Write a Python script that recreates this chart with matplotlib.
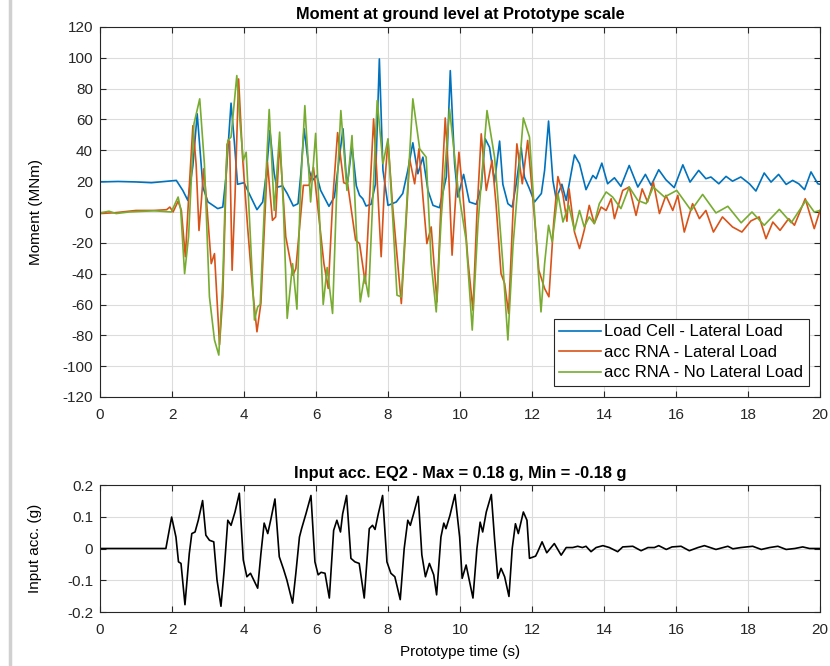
import matplotlib
matplotlib.use('Agg')
import matplotlib.pyplot as plt
from matplotlib.lines import Line2D

plt.rcParams['font.family'] = ['Liberation Sans', 'DejaVu Sans']
plt.rcParams['axes.unicode_minus'] = False

# Load Cell - Lateral Load (time s, moment MNm)
lc_t = [0, 0.5, 1.0, 1.43, 1.8, 2.12, 2.3, 2.44, 2.58, 2.70, 2.86, 3.0, 3.27, 3.41, 3.5, 3.64, 3.73, 3.82,
        4.0, 4.19, 4.36, 4.52, 4.62, 4.72, 4.84, 4.91, 5.07, 5.2, 5.37, 5.5, 5.58, 5.67, 5.81, 5.9, 6.02,
        6.13, 6.36, 6.51, 6.62, 6.75, 6.84, 6.88, 7.0, 7.12, 7.21, 7.3, 7.39, 7.53, 7.65, 7.76, 7.86, 8.0,
        8.23, 8.41, 8.55, 8.69, 8.83, 8.97, 9.11, 9.25, 9.43, 9.62, 9.73, 9.85, 9.94, 10.1, 10.26, 10.45,
        10.59, 10.7, 10.82, 10.96, 11.1, 11.19, 11.33, 11.45, 11.56, 11.7, 11.79, 11.93, 12.07, 12.26,
        12.35, 12.46, 12.58, 12.67, 12.83, 12.95, 13.18, 13.32, 13.5, 13.69, 13.78, 13.94, 14.1, 14.29,
        14.47, 14.7, 14.94, 15.15, 15.31, 15.52, 15.72, 15.95, 16.19, 16.39, 16.63, 16.83, 16.97, 17.19,
        17.39, 17.57, 17.8, 18.04, 18.22, 18.45, 18.64, 18.85, 19.06, 19.24, 19.41, 19.57, 19.75, 19.94, 20]
lc_v = [19.5, 19.8, 19.5, 19.0, 19.8, 20.5, 14, 7.5, 30, 63.7, 16, 6.5, 2.2, 3.2, 22.7, 70.6, 46, 18,
        19, 9.7, 1.5, 6.5, 25, 52.9, 24.8, 16, 17, 12, 3.9, 5.4, 25, 54, 27, 20.5, 23.7,
        14, 3.7, 9.7, 30, 54, 22.7, 19.4, 43, 17, 10.8, 8.6, 3.9, 5, 18, 99.3, 27, 4.3,
        6.5, 12, 27, 44.9, 24.8, 35.6, 14, 4.3, 2.8, 22.7, 91.7, 31.3, 9.7, 24.4, 6.5, 5,
        16, 47.5, 42, 19.4, 46, 18, 5.4, 3.2, 18, 41.7, 22.7, 15, 6.5, 12,
        27, 59, 20.5, 8.6, 18, 7.5, 37, 31.3, 14.5, 23.7, 21.6, 31.7, 18.3, 22.2,
        16.6, 30.2, 16.2, 24.4, 17.3, 27.4, 20.9, 15.8, 30.6, 19.4, 27, 21.6, 22.7, 18.3,
        23.1, 20, 22.7, 18.3, 13.6, 25.3, 19.4, 24.4, 17.9, 20.5, 18.3, 14.5, 26, 18.3, 18]

# acc RNA - Lateral Load
rl_t = [0, 0.4, 1.0, 1.5, 1.85, 1.94, 2.03, 2.17, 2.26, 2.37, 2.49, 2.58, 2.67, 2.75, 2.81, 2.88, 2.95,
        3.09, 3.18, 3.32, 3.41, 3.53, 3.6, 3.67, 3.75, 3.85, 3.96, 4.1, 4.24, 4.36, 4.47, 4.65, 4.79,
        4.88, 4.99, 5.16, 5.36, 5.44, 5.65, 5.81, 5.93, 6.08, 6.22, 6.34, 6.47, 6.6, 6.77, 6.88, 7.1,
        7.21, 7.37, 7.49, 7.6, 7.69, 7.81, 7.9, 8.0, 8.13, 8.37, 8.49, 8.6, 8.74, 8.86, 8.97, 9.08,
        9.2, 9.36, 9.48, 9.59, 9.69, 9.78, 9.88, 9.97, 10.08, 10.22, 10.36, 10.47, 10.59, 10.73, 10.89,
        11.0, 11.14, 11.24, 11.35, 11.47, 11.58, 11.73, 11.88, 12.02, 12.19, 12.35, 12.47, 12.6, 12.72,
        12.86, 12.97, 13.03, 13.18, 13.32, 13.45, 13.59, 13.73, 13.92, 14.06, 14.2, 14.29, 14.52, 14.7,
        14.89, 15.06, 15.21, 15.37, 15.54, 15.72, 15.91, 16.05, 16.23, 16.46, 16.65, 16.83, 17.04,
        17.29, 17.57, 17.83, 18.08, 18.31, 18.5, 18.69, 18.89, 19.13, 19.29, 19.59, 19.84, 20]
rl_v = [-1, -0.5, 1, 1, 1.5, 3.2, 0, 7, 1, -29, 20.5, 56, 31, -12, 5.4, 28, 9.7,
        -33.5, -27, -86, -55, 44, 46, -37.8, 9.7, 86.3, 35.6, -9.7, -50.7, -77.7, -59, 32.4, -5.4,
        -3.2, 45.3, -16, -41, -36.7, 17.3, 17.3, 29, -3.2, -33.5, -49.6, 9.7, 51.5, 19, 18, -18.3,
        -20.5, -46.4, 9.7, 60.4, 24.8, -29, 16, 46.4, 3.2, -59.4, -11.9, 34.5, 18.3, 41, 9.7, -20.5,
        -9.7, -58.3, 9.7, 61, 22.7, -28, 9.7, 38.8, 11.9, -31.3, -63.7, -1, 50.7, 14, 33.5,
        5.4, -40, -46.4, -65.8, -1, 44.2, 18.3, 46.4, 9.7, -37.8, -49.6, -55, -7.5, 23,
        11, -6, 15, -13, -23.7, -11.9, 4.3, -7.5, 3.2, 1, 8.6, -4.3, 14, 16.2,
        -2.2, 15, 6.5, 19.4, -1, 10.8, 1, 10.8, -13, 5.4, -4.3, 1, -13,
        -3.2, -9.7, -13, -5.8, -3.2, -17.3, -6.5, -11.9, -4.3, -8.6, 8.6, -10.8, 1]

# acc RNA - No Lateral Load
nl_t = [0, 0.25, 0.45, 0.8, 1.5, 1.98, 2.17, 2.24, 2.35, 2.46, 2.61, 2.77, 2.9, 3.04, 3.18, 3.3, 3.41,
        3.5, 3.55, 3.64, 3.8, 3.9, 3.98, 4.06, 4.15, 4.29, 4.38, 4.45, 4.56, 4.7, 4.84, 4.99, 5.09,
        5.2, 5.35, 5.47, 5.56, 5.69, 5.85, 5.99, 6.11, 6.2, 6.31, 6.46, 6.57, 6.69, 6.86, 7.0, 7.12,
        7.23, 7.35, 7.46, 7.58, 7.7, 7.86, 8.0, 8.13, 8.25, 8.37, 8.5, 8.69, 8.88, 9.06, 9.2, 9.34,
        9.48, 9.71, 9.94, 10.17, 10.34, 10.5, 10.75, 10.96, 11.05, 11.19, 11.33, 11.47, 11.76, 11.93,
        12.07, 12.25, 12.35, 12.46, 12.56, 12.72, 12.86, 13.02, 13.18, 13.32, 13.45, 13.59, 13.73,
        13.87, 14.06, 14.24, 14.47, 14.7, 14.94, 15.17, 15.37, 15.68, 16.02, 16.42, 16.74, 17.11,
        17.44, 17.81, 18.11, 18.45, 18.87, 19.2, 19.61, 19.84, 20]
nl_v = [-0.6, 0.5, -1, 0, 0.8, 0, 9.7, 2, -40, -16, 57.2, 73.4, 31.3, -55, -83, -92.8, -44.2,
        27, 46.4, 48.6, 88.5, 55, 33.5, 38.8, -3.2, -70.1, -61.5, -60, 0, 66.5, 1, 51.8, 5.4,
        -69, -33.5, -63, 9.7, 69, 6.5, 51, -10, -60, -36, -65.8, 9.7, 65.8, 14, 49.6, -11.9,
        -58.3, -41, -55, 9.7, 72.3, 31.3, 47.5, -3.2, -54, -55, -3.2, 73.4, 41, 35.6, -33.5, -64.8,
        -3.2, 66.9, 16.2, -18.3, -76.6, -7.5, 65.8, 35.6, 9.7, -33.5, -83, -22.7, 61, 48.6,
        -1, -64.8, -33.5, -8.6, -19.4, 11.9, -6.5, 4.3, -11.9, 1, -9.7, -3.2, -7.5,
        5.4, 13, 9.7, 2.2, 16.2, 7.5, 5.4, 16.2, 9.7, 14, 1, 11.4, -0.6,
        3.7, -7, 0, -8.6, 1.7, -7, 7.5, 0, 1]

# Input acceleration EQ2 (time s, g)
acc_t = [0, 1.0, 1.83, 1.99, 2.11, 2.18, 2.25, 2.36, 2.48, 2.55, 2.64, 2.73, 2.85, 2.94, 3.04, 3.16,
         3.25, 3.36, 3.45, 3.55, 3.64, 3.75, 3.87, 3.98, 4.08, 4.18, 4.27, 4.38, 4.47, 4.56, 4.66,
         4.75, 4.86, 4.98, 5.1, 5.19, 5.35, 5.44, 5.54, 5.6, 5.72, 5.86, 5.97, 6.06, 6.14, 6.25, 6.37,
         6.49, 6.58, 6.68, 6.74, 6.85, 6.97, 7.08, 7.2, 7.34, 7.48, 7.57, 7.64, 7.73, 7.85, 7.97, 8.08,
         8.19, 8.34, 8.45, 8.55, 8.62, 8.71, 8.84, 8.94, 9.04, 9.15, 9.27, 9.35, 9.47, 9.55, 9.61,
         9.72, 9.86, 9.99, 10.06, 10.17, 10.36, 10.47, 10.56, 10.63, 10.73, 10.87, 10.96, 11.05,
         11.14, 11.24, 11.36, 11.45, 11.54, 11.62, 11.76, 11.86, 11.93, 12.1, 12.16, 12.28, 12.41,
         12.62, 12.81, 12.95, 13.13, 13.27, 13.4, 13.5, 13.64, 13.78, 13.97, 14.15, 14.38, 14.52,
         14.8, 15.03, 15.22, 15.4, 15.52, 15.73, 15.89, 16.14, 16.37, 16.61, 16.79, 17.11, 17.44,
         17.58, 17.8, 18.13, 18.37, 18.6, 18.83, 19.06, 19.3, 19.52, 19.71, 20]
acc_v = [0, 0, 0, 0.099, 0.036, -0.042, -0.047, -0.177, -0.016, 0.047, 0.052, 0.089, 0.151, 0.042,
         0.026, 0.021, -0.099, -0.182, -0.068, 0.089, 0.073, 0.115, 0.174, -0.036, -0.089, -0.078,
         -0.099, -0.125, -0.016, 0.08, 0.047, 0.094, 0.156, -0.026, -0.066, -0.099, -0.172, -0.078,
         0.036, 0.0625, 0.109, 0.167, -0.042, -0.083, -0.075, -0.078, -0.156, 0.057, 0.089, 0.052,
         0.109, 0.167, -0.031, -0.042, -0.047, -0.156, 0.0625, 0.073, 0.06, 0.109, 0.167, -0.042,
         -0.078, -0.089, -0.161, 0.0, 0.089, 0.073, 0.109, 0.164, -0.02, -0.089, -0.047, -0.083,
         -0.146, 0.036, 0.08, 0.0625, 0.104, 0.17, 0.036, -0.094, -0.052, -0.156, 0.0, 0.083, 0.052,
         0.115, 0.17, 0.03, -0.094, -0.0625, -0.089, -0.151, 0.0, 0.078, 0.047, 0.115, 0.089, -0.031,
         -0.024, -0.01, 0.021, -0.0135, 0.0156, -0.021, 0.003, 0.003, 0.007, 0.003, 0.007, -0.01,
         0.003, 0.009, 0.003, -0.01, 0.005, 0.007, -0.007, 0.003, 0.003, 0.009, -0.003, 0.005, 0.007,
         -0.007, 0.003, 0.009, -0.003, 0.007, -0.001, 0.003, 0.007, -0.003, 0.003, 0.007, -0.003,
         0.0, 0.005, 0.0, 0.0]

blue = '#0072BD'
orange = '#D95319'
green = '#77AC30'
edge = '#262626'
fs = 11

fig = plt.figure(figsize=(8.3, 6.66), dpi=100)
ax1 = fig.add_axes([100 / 830, 1 - 397 / 666, 720 / 830, 370 / 666])
ax2 = fig.add_axes([100 / 830, 1 - 612 / 666, 720 / 830, 127 / 666])

# light screenshot border on the left
fig.add_artist(Line2D([9.5 / 830, 9.5 / 830], [0, 1], color='#d0d0d0', linewidth=2.5))


def style_axes(ax):
    ax.grid(True, color='#dcdcdc', linewidth=0.8)
    ax.set_axisbelow(True)
    ax.tick_params(direction='in', top=True, right=True, labelsize=fs, colors=edge, length=4)
    ax.tick_params(axis='x', pad=8)
    ax.tick_params(axis='y', pad=5)
    for sp in ax.spines.values():
        sp.set_color(edge)
        sp.set_linewidth(0.8)
    ax.set_xlim(0, 20)
    ax.set_xticks(range(0, 21, 2))


ax1.plot(lc_t, lc_v, color=blue, linewidth=1.2, label='Load Cell - Lateral Load')
ax1.plot(rl_t, rl_v, color=orange, linewidth=1.2, label='acc RNA - Lateral Load')
ax1.plot(nl_t, nl_v, color=green, linewidth=1.2, label='acc RNA - No Lateral Load')
style_axes(ax1)
ax1.set_ylim(-120, 120)
ax1.set_yticks(range(-120, 121, 20))
ax1.set_ylabel('Moment (MNm)', fontsize=fs, labelpad=14)
ax1.set_title('Moment at ground level at Prototype scale', fontsize=11.8, fontweight='bold', pad=6)
leg = ax1.legend(loc='lower right', fontsize=12, fancybox=False, framealpha=1,
                 edgecolor=edge, borderaxespad=0.65, handlelength=2.5, handletextpad=0.2,
                 labelspacing=0.33, borderpad=0.35)
leg.get_frame().set_linewidth(0.8)

ax2.plot(acc_t, acc_v, color='black', linewidth=1.2)
style_axes(ax2)
ax2.set_ylim(-0.2, 0.2)
ax2.set_yticks([-0.2, -0.1, 0, 0.1, 0.2])
ax2.set_yticklabels(['-0.2', '-0.1', '0', '0.1', '0.2'])
ax2.set_ylabel('Input acc. (g)', fontsize=fs, labelpad=18)
ax2.set_xlabel('Prototype time (s)', fontsize=fs, labelpad=6)
ax2.set_title('Input acc. EQ2 - Max = 0.18 g, Min = -0.18 g', fontsize=11.8, fontweight='bold', pad=5)

fig.savefig('out.png', dpi=100)
